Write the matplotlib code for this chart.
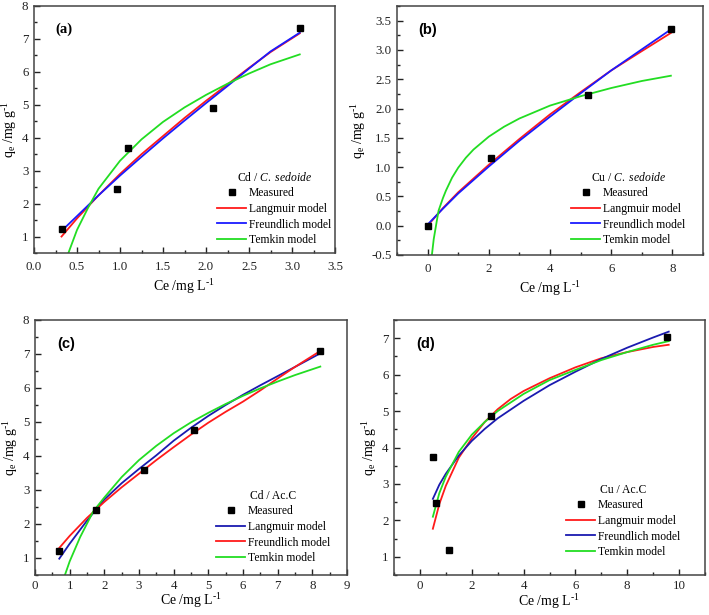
import matplotlib
matplotlib.use('Agg')
import matplotlib.pyplot as plt
from matplotlib.ticker import MultipleLocator, FormatStrFormatter

plt.rcParams['font.family'] = ['Liberation Serif', 'DejaVu Serif']
plt.rcParams['mathtext.fontset'] = 'custom'
plt.rcParams['mathtext.rm'] = 'Liberation Serif'
plt.rcParams['mathtext.it'] = 'Liberation Serif:italic'
plt.rcParams['axes.unicode_minus'] = False

# ---------------- data ----------------
# (a) Cd / C. sedoide
a_meas_x = [0.32, 0.96, 1.09, 2.08, 3.09]
a_meas_y = [1.23, 2.45, 3.70, 4.89, 7.34]
a_lang_x = [0.32, 0.5, 0.75, 1.0, 1.25, 1.5, 1.75, 2.0, 2.25, 2.5, 2.75, 3.09]
a_lang_y = [1.00, 1.55, 2.25, 2.90, 3.50, 4.05, 4.60, 5.12, 5.62, 6.12, 6.60, 7.17]
a_freu_x = [0.34, 0.5, 0.75, 1.0, 1.25, 1.5, 1.75, 2.0, 2.25, 2.5, 2.75, 3.09]
a_freu_y = [1.22, 1.62, 2.25, 2.85, 3.42, 3.98, 4.52, 5.05, 5.57, 6.10, 6.62, 7.19]
a_temk_x = [0.40, 0.5, 0.63, 0.75, 1.0, 1.25, 1.5, 1.75, 2.0, 2.25, 2.5, 2.75, 3.09]
a_temk_y = [0.50, 1.20, 1.88, 2.45, 3.30, 3.95, 4.48, 4.92, 5.30, 5.64, 5.95, 6.23, 6.53]

# (b) Cu / C. sedoide
b_meas_x = [0.0, 2.07, 5.25, 7.97]
b_meas_y = [0.0, 1.15, 2.23, 3.35]
b_lang_x = [0.0, 0.5, 1.0, 2.0, 3.0, 4.0, 5.0, 6.0, 7.0, 7.95]
b_lang_y = [0.0, 0.30, 0.57, 1.04, 1.48, 1.90, 2.28, 2.65, 2.98, 3.29]
b_freu_x = [0.0, 0.5, 1.0, 2.0, 3.0, 4.0, 5.0, 6.0, 7.0, 7.95]
b_freu_y = [0.02, 0.29, 0.55, 1.01, 1.45, 1.86, 2.26, 2.65, 3.01, 3.35]
b_temk_x = [0.14, 0.2, 0.3, 0.36, 0.5, 0.6, 0.8, 1.0, 1.25, 1.5, 2.0, 2.5, 3.0, 4.0, 5.0, 6.0, 7.0, 7.95]
b_temk_y = [-0.50, -0.23, 0.08, 0.26, 0.47, 0.60, 0.82, 0.99, 1.16, 1.30, 1.52, 1.69, 1.83, 2.05, 2.21, 2.35, 2.47, 2.56]

# (c) Cd / Ac.C
c_meas_x = [0.70, 1.75, 3.13, 4.60, 8.23]
c_meas_y = [1.22, 2.40, 3.59, 4.77, 7.09]
c_lang_x = [0.70, 1.0, 1.5, 2.0, 2.5, 3.0, 3.5, 4.0, 4.5, 5.0, 5.5, 6.0, 6.5, 7.0, 7.5, 8.23]
c_lang_y = [0.98, 1.42, 2.10, 2.72, 3.20, 3.62, 4.02, 4.45, 4.83, 5.18, 5.50, 5.80, 6.08, 6.35, 6.62, 7.02]
c_freu_x = [0.67, 1.0, 1.5, 2.0, 2.5, 3.0, 3.5, 4.0, 4.5, 5.0, 5.5, 6.0, 6.5, 7.0, 7.5, 8.23]
c_freu_y = [1.26, 1.65, 2.18, 2.65, 3.08, 3.48, 3.88, 4.26, 4.63, 4.98, 5.30, 5.60, 5.93, 6.28, 6.62, 7.09]
c_temk_x = [0.87, 1.0, 1.3, 1.68, 2.0, 2.5, 3.0, 3.5, 4.0, 4.5, 5.0, 5.5, 6.0, 6.5, 7.0, 7.5, 8.23]
c_temk_y = [0.52, 0.90, 1.61, 2.37, 2.78, 3.38, 3.88, 4.30, 4.67, 4.99, 5.27, 5.53, 5.77, 5.99, 6.19, 6.38, 6.63]

# (d) Cu / Ac.C
d_meas_x = [0.51, 0.61, 1.14, 2.76, 9.55]
d_meas_y = [3.73, 2.47, 1.20, 4.86, 7.02]
d_lang_x = [0.5, 0.75, 1.0, 1.5, 2.0, 2.5, 3.0, 3.5, 4.0, 5.0, 6.0, 7.0, 8.0, 9.0, 9.6]
d_lang_y = [1.77, 2.45, 2.95, 3.72, 4.25, 4.70, 5.05, 5.33, 5.55, 5.90, 6.20, 6.45, 6.62, 6.76, 6.82]
d_freu_x = [0.5, 0.75, 1.0, 1.5, 2.0, 2.5, 3.0, 4.0, 5.0, 6.0, 7.0, 8.0, 9.0, 9.6]
d_freu_y = [2.59, 2.98, 3.28, 3.78, 4.18, 4.51, 4.80, 5.28, 5.71, 6.08, 6.43, 6.74, 7.02, 7.18]
d_temk_x = [0.5, 0.75, 1.0, 1.5, 2.0, 2.5, 3.0, 4.0, 5.0, 6.0, 7.0, 8.0, 9.0, 9.6]
d_temk_y = [2.10, 2.75, 3.20, 3.88, 4.35, 4.70, 5.00, 5.47, 5.85, 6.13, 6.40, 6.62, 6.82, 6.92]

# ---------------- layout ----------------
W, H = 709, 615
fig = plt.figure(figsize=(W / 100, H / 100), dpi=100)

RED = '#ff1a1a'
BLUE = '#1a1aff'
NAVY = '#1a1ab0'
GREEN = '#22dd22'
SPINE = '#444444'

XLABEL = r'Ce /mg L$^{\mathregular{\text{-}1}}$'
YLABEL = r'q$_{\mathregular{e}}$ /mg g$^{\mathregular{\text{-}1}}$'


def add_ax(l, t, r, b):
    return fig.add_axes([l / W, 1 - b / H, (r - l) / W, (b - t) / H])


def style(ax, xlim, ylim, xmaj, xmin, ymaj, ymin, xfmt=None, yfmt=None,
          xpad=6, xlabelpad=2.5):
    ax.set_xlim(*xlim)
    ax.set_ylim(*ylim)
    ax.xaxis.set_major_locator(MultipleLocator(xmaj))
    ax.xaxis.set_minor_locator(MultipleLocator(xmin))
    ax.yaxis.set_major_locator(MultipleLocator(ymaj))
    ax.yaxis.set_minor_locator(MultipleLocator(ymin))
    if xfmt:
        ax.xaxis.set_major_formatter(xfmt)
    if yfmt:
        ax.yaxis.set_major_formatter(yfmt)
    ax.tick_params(which='both', direction='in', top=False, right=False,
                   labelsize=9.3, colors='#222222', width=1.0)
    ax.tick_params(which='major', length=4.5)
    ax.tick_params(axis='x', which='major', pad=xpad)
    ax.tick_params(axis='y', which='major', pad=4)
    ax.tick_params(which='minor', length=2.5)
    for s in ax.spines.values():
        s.set_color(SPINE)
        s.set_linewidth(1.1)
    ax.set_xlabel(XLABEL, fontsize=10, labelpad=xlabelpad)
    ax.set_ylabel(YLABEL, fontsize=10, labelpad=2)


def legend(ax, handles, title, x, y):
    leg = ax.legend(handles=handles, title=title, loc='upper left',
                    bbox_to_anchor=(x / W, 1 - y / H), bbox_transform=fig.transFigure,
                    frameon=False, fontsize=8.4, title_fontsize=8.4,
                    handlelength=2.5, handletextpad=0.25, labelspacing=0.3,
                    borderpad=0, borderaxespad=0, numpoints=1)
    leg._legend_box.align = 'center'
    return leg


def panel(ax, meas, curves, title, lx, ly, tag, tagfont):
    mx, my = meas
    hm, = ax.plot(mx, my, 's', color='black', markersize=5, label='Measured', zorder=5)
    hs = [hm]
    for (cx, cy, col, lab) in curves:
        h, = ax.plot(cx, cy, '-', color=col, linewidth=1.3, label=lab)
        hs.append(h)
    order = {'Measured': 0, 'Langmuir model': 1, 'Freundlich model': 2, 'Temkin model': 3}
    hs.sort(key=lambda h: order[h.get_label()])
    legend(ax, hs, title, lx, ly)
    ax.text(0.07, 0.905, tag, transform=ax.transAxes, fontsize=10.5,
            fontweight='bold', family=tagfont, va='center', ha='left')


# (a)
axa = add_ax(34, 6, 335, 253)
style(axa, (0, 3.5), (0.5, 8), 0.5, 0.25, 1, 0.5, xfmt=FormatStrFormatter('%.1f'))
panel(axa, (a_meas_x, a_meas_y),
      [(a_lang_x, a_lang_y, RED, 'Langmuir model'),
       (a_freu_x, a_freu_y, BLUE, 'Freundlich model'),
       (a_temk_x, a_temk_y, GREEN, 'Temkin model')],
      r'Cd / $\mathit{C.\ sedoide}$', 217, 171, '(a)', 'Liberation Serif')

# (b)
axb = add_ax(397, 6, 703, 255)
style(axb, (-1, 9), (-0.5, 3.75), 2, 1, 0.5, 0.25, yfmt=FormatStrFormatter('%.1f'))
panel(axb, (b_meas_x, b_meas_y),
      [(b_lang_x, b_lang_y, RED, 'Langmuir model'),
       (b_freu_x, b_freu_y, BLUE, 'Freundlich model'),
       (b_temk_x, b_temk_y, GREEN, 'Temkin model')],
      r'Cu / $\mathit{C.\ sedoide}$', 571, 171, '(b)', 'Liberation Sans')

# (c)
axc = add_ax(35, 320, 347, 575)
style(axc, (0, 9), (0.5, 8), 1, 0.5, 1, 0.5, xpad=3.5, xlabelpad=-0.5)
panel(axc, (c_meas_x, c_meas_y),
      [(c_lang_x, c_lang_y, NAVY, 'Langmuir model'),
       (c_freu_x, c_freu_y, RED, 'Freundlich model'),
       (c_temk_x, c_temk_y, GREEN, 'Temkin model')],
      'Cd / Ac.C', 216, 490, '(c)', 'Liberation Sans')

# (d)
axd = add_ax(394, 320, 705, 575)
style(axd, (-1, 11), (0.5, 7.5), 2, 1, 1, 0.5, xpad=3.5, xlabelpad=0)
panel(axd, (d_meas_x, d_meas_y),
      [(d_lang_x, d_lang_y, RED, 'Langmuir model'),
       (d_freu_x, d_freu_y, NAVY, 'Freundlich model'),
       (d_temk_x, d_temk_y, GREEN, 'Temkin model')],
      'Cu / Ac.C', 566, 484, '(d)', 'Liberation Sans')

fig.savefig('out.png', dpi=100)
